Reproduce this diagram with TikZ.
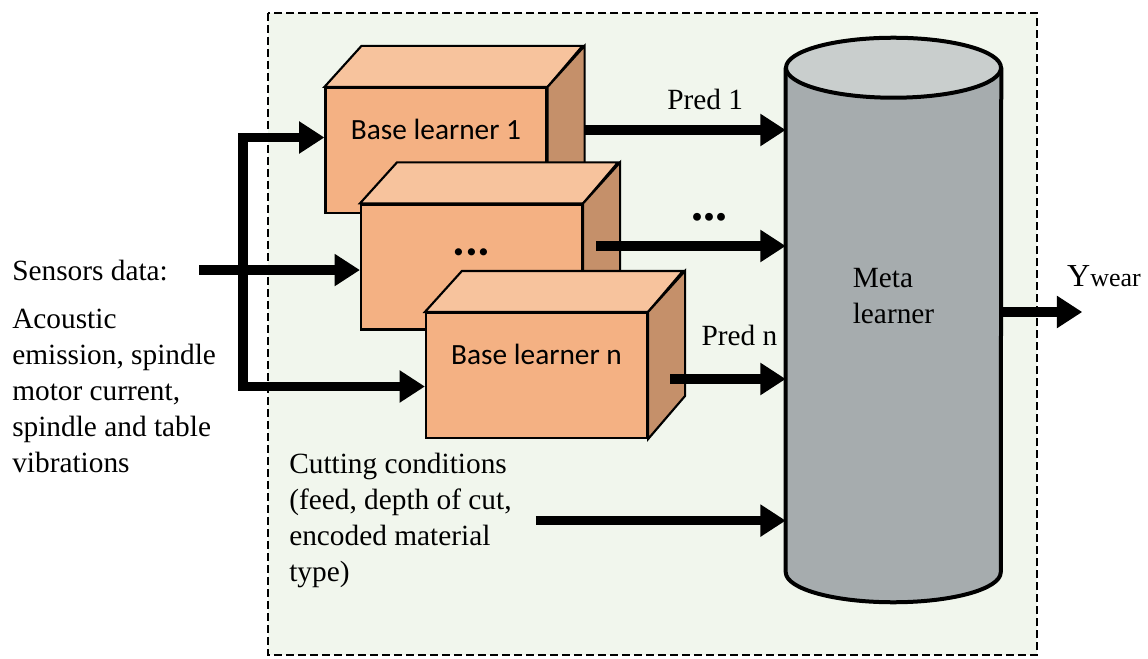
\documentclass[tikz,border=0pt]{standalone}
\usepackage{fontspec}
\setmainfont{Liberation Serif}
\newfontfamily\boxfont{Carlito}
\usetikzlibrary{calc,arrows.meta}
\definecolor{panelbg}{RGB}{241,246,237}
\definecolor{frontc}{RGB}{244,177,131}
\definecolor{topc}{RGB}{247,195,157}
\definecolor{sidec}{RGB}{197,144,106}
\definecolor{cylbody}{RGB}{166,172,174}
\definecolor{cyltop}{RGB}{201,206,205}

\begin{document}
\begin{tikzpicture}[x=.75pt,y=-.75pt,
  txt/.style={font=\fontsize{22}{27}\selectfont,inner sep=0pt},
  face/.style={draw=black,line width=1.6pt,line join=miter},
  learner/.style={face,fill=frontc,minimum width=165.75pt,minimum height=93.75pt,inner sep=0pt,
    font=\boxfont\fontsize{22}{26}\selectfont,text height=16pt,text depth=33pt},
  meta/.style={txt,fill=cylbody,align=left,minimum width=161.25pt,minimum height=378pt,text depth=36pt},
  cyl/.style={draw=black,line width=3pt},
  big/.style={line width=7pt,-{Triangle[length=19pt,width=23pt]}}]
\useasboundingbox (0,0) rectangle (1148,659);
\draw[fill=panelbg,line width=1.8pt,dash pattern=on 6pt off 3pt] (268,13) rectangle (1037,655);

% base learners
\foreach \n/\cx/\cy/\t in {b1/436/150.5/{Base learner 1},b2/471.5/267/{{\fontsize{36}{36}\selectfont\textbf{...}}},bn/536.5/375.5/{Base learner n}}{
  \node[learner] (\n) at (\cx,\cy) {\t};
  \draw[face,fill=topc] (\n.north west) -- ++(37,-41) -- ++(221,0) -- (\n.north east) -- cycle;
  \draw[face,fill=sidec] (\n.north east) -- ++(37,-41) -- ++(0,125) -- (\n.south east) -- cycle;
}

% meta learner
\node[meta] (meta) at (893.5,320) {Meta\\learner};
\fill[cylbody] ([yshift=3pt]meta.south west) -- (meta.south west) arc[start angle=180,end angle=360,x radius=80.625pt,y radius=22.5pt] -- ([yshift=3pt]meta.south east) -- cycle;
\draw[cyl] (meta.north west) -- (meta.south west) arc[start angle=180,end angle=360,x radius=80.625pt,y radius=22.5pt] -- (meta.north east);
\draw[cyl,fill=cyltop] (meta.north) ellipse[x radius=80.625pt,y radius=22.5pt];

% inputs
\node[txt,anchor=base west] (sens) at (12,280) {Sensors data:};
\node[txt,anchor=north west,align=left] (sig) at (12,309) {Acoustic\\emission, spindle\\motor current,\\spindle and table\\vibrations};
\node[txt,anchor=north west,align=left] (cut) at (289,453) {Cutting conditions\\(feed, depth of cut,\\encoded material\\type)};
\coordinate (split) at (243,268);
\draw[big] ($(sens.east)+(31,0)$) -- (sens.east -| b2.west);
\draw[big] (split) |- ($(b1.west)+(0,-13)$);
\draw[big] (split) |- ($(bn.west)+(0,11)$);
\draw[big] ($(cut.east)+(24,0)$) -- (cut.east -| meta.west);

% predictions
\foreach \n/\dx/\dy/\l/\h in {b1/37/-20.5/{Pred 1}/12pt,b2/13/-21/{{\fontsize{36}{36}\selectfont\textbf{...}}}/15pt,bn/22/3.5/{Pred n}/21.75pt}{
  \coordinate (t\n) at ($(\n.east)+(\dx,\dy)$);
  \draw[big] (t\n) -- (t\n -| meta.west) node[txt,pos=.6,above=\h] {\l};
}

% output
\draw[big] ($(meta.east)+(0,-8)$) -- ++(81,0) coordinate (out);
\node[anchor=base,inner sep=0pt] (ywear) at (1104,286) {{\fontsize{24}{24}\selectfont Y}{\fontsize{19.5}{20}\selectfont wear}};
\end{tikzpicture}
\end{document}
